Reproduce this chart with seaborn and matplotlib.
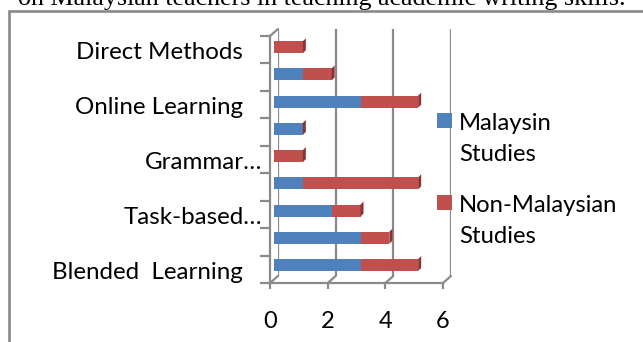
import matplotlib
matplotlib.use("Agg")
import matplotlib.pyplot as plt
import matplotlib.transforms as mtransforms
from matplotlib.patches import Rectangle, Polygon, ConnectionPatch
import seaborn as sns
import pandas as pd

# ---- data (bottom to top) ----
positions = [0, 1, 2, 3, 4, 5, 6, 7, 8]
category_labels = ["Blended  Learning", "", "Task-based\u2026", "", "Grammar\u2026",
                   "", "Online Learning", "", "Direct Methods"]
malaysian = [3, 3, 2, 1, 0, 1, 3, 1, 0]
non_malaysian = [2, 1, 1, 4, 1, 0, 2, 1, 1]
x_ticks = [0, 2, 4, 6]
series_names = ["Malaysin\nStudies", "Non-Malaysian\nStudies"]

BLUE = "#4F81BD"
RED = "#C0504D"
RED_SIDE = "#8C3331"
GRID = "#8A8A8A"

sns.set_theme(style="white")
plt.rcParams["font.family"] = ["Lato", "DejaVu Sans"]

W, H = 643, 342
fig = plt.figure(figsize=(W / 100, H / 100), dpi=100)


def rect(left, top, right, bottom):
    return [left / W, 1 - bottom / H, (right - left) / W, (bottom - top) / H]


def fpt(x, y):
    return (x / W, 1 - y / H)


# caption line above the chart frame
fig.text(18 / W, 1 - 4.5 / H, "on Malaysian teachers in teaching academic writing skills.",
         family="Liberation Serif", fontsize=18.7, color="black", va="baseline", ha="left")

# chart frame
fig.patches.append(Rectangle(fpt(8.5, 400), (700) / W, (400 - 11.5) / H,
                             transform=fig.transFigure, fill=False,
                             edgecolor="#8A8A8A", linewidth=1.9, zorder=0))

df = pd.DataFrame({"pos": positions, "mal": malaysian, "non": non_malaysian})
df["total"] = df["mal"] + df["non"]

# back wall (gridlines), bar layer and front edges, offset to give depth
ax_back = fig.add_axes(rect(278, 29, 451, 276))
ax_bar = fig.add_axes(rect(274, 33.6, 447, 278.6))
ax_front = fig.add_axes(rect(270, 36, 443, 283))

for a in (ax_back, ax_bar, ax_front):
    a.set_xlim(0, 6)
    a.set_ylim(-0.5, 8.5)
    a.patch.set_alpha(0)

ax_back.set_zorder(1)
ax_bar.set_zorder(2)
ax_front.set_zorder(3)

# back gridlines
for s in ax_back.spines.values():
    s.set_visible(False)
ax_back.set_xticks(x_ticks)
ax_back.set_yticks([])
ax_back.tick_params(length=0, labelbottom=False)
ax_back.grid(axis="x", color=GRID, linewidth=1.6)

# stacked bars: totals in red, Malaysian share in blue on top
sns.barplot(data=df, x="total", y="pos", orient="h", native_scale=True, color=RED,
            saturation=1, width=0.44, errorbar=None, ax=ax_bar, linewidth=0)
red_patches = list(ax_bar.patches)
sns.barplot(data=df, x="mal", y="pos", orient="h", native_scale=True, color=BLUE,
            saturation=1, width=0.44, errorbar=None, ax=ax_bar, linewidth=0)
ax_bar.set_xlim(0, 6)
ax_bar.set_ylim(-0.5, 8.5)
ax_bar.axis("off")

# end faces of the bars
fig.canvas.draw()
for p in red_patches:
    x1 = p.get_x() + p.get_width()
    y0 = p.get_y()
    y1 = y0 + p.get_height()
    (dx0, dy0), (dx1, dy1) = ax_bar.transData.transform([(x1, y0), (x1, y1)])
    face = Polygon([(dx0, dy0), (dx1, dy1), (dx1 + 3, dy1 + 3), (dx0 + 3, dy0 + 3)],
                   closed=True, transform=mtransforms.IdentityTransform(),
                   facecolor=RED_SIDE, edgecolor="none", zorder=5)
    fig.patches.append(face)

# front edges: left wall and floor
for side in ("top", "right"):
    ax_front.spines[side].set_visible(False)
for side in ("left", "bottom"):
    ax_front.spines[side].set_color(GRID)
    ax_front.spines[side].set_linewidth(1.6)
ax_front.set_xticks(x_ticks)
ax_front.set_xticklabels([str(t) for t in x_ticks])
ax_front.set_yticks([p - 0.5 for p in positions] + [positions[-1] + 0.5])
ax_front.set_yticklabels([])
ax_front.tick_params(axis="y", direction="out", length=7.5, width=1.6, color=GRID, left=True)
ax_front.tick_params(axis="x", direction="out", length=4, width=1.6, color=GRID,
                     bottom=True, pad=16.5, labelsize=17, labelcolor="black")

# category names
for pos, lab in zip(positions, category_labels):
    if not lab:
        continue
    shift = -8 if lab.endswith("\u2026") else -27
    tr = mtransforms.offset_copy(ax_front.get_yaxis_transform(), fig=fig,
                                 x=shift, y=-3, units="dots")
    ax_front.text(0, pos, lab, transform=tr, ha="right", va="center",
                  fontsize=17.4, color="black")

# depth connectors between front and back planes
for t in x_ticks:
    fig.add_artist(ConnectionPatch(xyA=(t, -0.5), coordsA=ax_front.transData,
                                   xyB=(t, -0.5), coordsB=ax_back.transData,
                                   color=GRID, linewidth=1.6))
fig.add_artist(ConnectionPatch(xyA=(0, 8.5), coordsA=ax_front.transData,
                               xyB=(0, 8.5), coordsB=ax_back.transData,
                               color=GRID, linewidth=1.6))

# legend
legend_items = [(series_names[0], BLUE, 113), (series_names[1], RED, 195)]
for name, col, top in legend_items:
    fig.patches.append(Rectangle(fpt(437, top + 15), 15 / W, 15 / H,
                                 transform=fig.transFigure, facecolor=col,
                                 edgecolor="none", zorder=6))
    fig.text(459 / W, 1 - top / H, name, ha="left", va="top",
             fontsize=17.2, linespacing=1.6, color="black", zorder=6)

fig.savefig("out.png", dpi=100)
